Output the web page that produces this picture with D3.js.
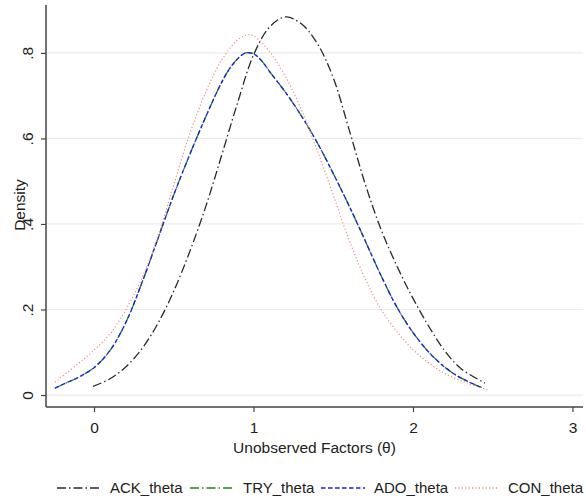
<!DOCTYPE html>
<html><head><meta charset="utf-8">
<script src="https://cdn.jsdelivr.net/npm/d3@7"></script>
<style>body{margin:0;background:#fff}svg{display:block}text{font-family:"Liberation Sans",Arial,sans-serif;fill:#222}</style>
</head><body><div id="chart"></div>
<script>
const xTicks = [0, 1, 2, 3];
const yTicks = [0, 0.2, 0.4, 0.6, 0.8];
const yTickLabels = ["0", ".2", ".4", ".6", ".8"];
const seriesNames = ["ACK_theta", "TRY_theta", "ADO_theta", "CON_theta"];

const ackTheta = [-0.006,0.1,0.2,0.3,0.4,0.5,0.6,0.7,0.8,0.9,1.0,1.1,1.2,1.3,1.4,1.5,1.6,1.7,1.8,1.9,2.0,2.1,2.2,2.3,2.451];
const ackDens  = [0.020,0.038,0.066,0.108,0.167,0.243,0.335,0.440,0.560,0.683,0.795,0.860,0.884,0.868,0.822,0.742,0.620,0.494,0.387,0.301,0.226,0.160,0.103,0.062,0.028];

const tryTheta = [-0.245,-0.2,-0.1,0.0,0.1,0.2,0.3,0.4,0.5,0.6,0.7,0.8,0.85,0.9,0.95,1.0,1.05,1.1,1.2,1.3,1.4,1.5,1.6,1.7,1.8,1.9,2.0,2.1,2.2,2.3,2.439];
const tryDens  = [0.016,0.024,0.041,0.064,0.104,0.170,0.262,0.365,0.468,0.562,0.650,0.731,0.763,0.786,0.800,0.798,0.782,0.757,0.708,0.653,0.590,0.518,0.442,0.361,0.279,0.205,0.146,0.100,0.065,0.040,0.016];
const adoTheta = tryTheta.slice();
const adoDens  = tryDens.slice();

const conTheta = [-0.245,-0.1,0.0,0.1,0.2,0.3,0.4,0.5,0.6,0.7,0.8,0.9,0.96,1.0,1.1,1.2,1.3,1.4,1.5,1.6,1.7,1.8,1.9,2.0,2.1,2.2,2.34,2.47];
const conDens  = [0.030,0.073,0.105,0.143,0.200,0.273,0.370,0.492,0.610,0.708,0.783,0.830,0.842,0.840,0.803,0.745,0.668,0.572,0.468,0.362,0.272,0.200,0.148,0.106,0.075,0.050,0.028,0.012];

const W = 586, H = 500;
const svg = d3.select("#chart").append("svg").attr("width", W).attr("height", H);

const x = d3.scaleLinear().domain([-0.301, 3.066]).range([46, 583]);
const y = d3.scaleLinear().domain([-0.028, 0.912]).range([407, 5]);

// gridlines
svg.append("g").selectAll("line").data(yTicks).join("line")
  .attr("x1", x.range()[0]).attr("x2", x.range()[1])
  .attr("y1", d => y(d)).attr("y2", d => y(d))
  .attr("stroke", "#ebebeb").attr("stroke-width", 1.2);

const series = [
  {name: seriesNames[0], th: ackTheta, de: ackDens, color: "#2a2a2a", dash: "9,3,1.5,3", w: 1.3},
  {name: seriesNames[1], th: tryTheta, de: tryDens, color: "#1a8a1a", dash: "9,3,1.5,3", w: 1.3},
  {name: seriesNames[2], th: adoTheta, de: adoDens, color: "#1f1fe0", dash: "4.5,2.5", w: 1.3},
  {name: seriesNames[3], th: conTheta, de: conDens, color: "#f08a80", dash: "1.2,2.2", w: 1.2}
];

const line = d3.line().x(d => x(d[0])).y(d => y(d[1])).curve(d3.curveCatmullRom.alpha(0.5));
series.forEach(s => {
  const pts = s.th.map((t, i) => [t, s.de[i]]);
  svg.append("path").datum(pts).attr("d", line)
    .attr("fill", "none").attr("stroke", s.color).attr("stroke-width", s.w)
    .attr("stroke-dasharray", s.dash);
});

// axes
const axisColor = "#444";
const yAxis = svg.append("g").attr("transform", `translate(${x.range()[0]},0)`)
  .call(d3.axisLeft(y).tickValues(yTicks).tickSize(5).tickFormat((d, i) => yTickLabels[i]));
yAxis.select(".domain").attr("d", `M0,${y.range()[1]}V${y.range()[0]}`).attr("stroke", axisColor).attr("stroke-width", 1.5);
yAxis.selectAll(".tick line").attr("stroke", axisColor).attr("stroke-width", 1.2);
yAxis.selectAll(".tick text")
  .attr("x", 0).attr("text-anchor", "middle")
  .attr("transform", "translate(-18,0) rotate(-90)")
  .attr("dy", "0.35em")
  .style("font-size", "15.5px").style("font-family", "Liberation Sans, Arial, sans-serif").attr("fill", "#222");

const xAxis = svg.append("g").attr("transform", `translate(0,${y.range()[0]})`)
  .call(d3.axisBottom(x).tickValues(xTicks).tickSize(5).tickFormat(d3.format("d")));
xAxis.select(".domain").attr("d", `M${x.range()[0]},0H${x.range()[1]}`).attr("stroke", axisColor).attr("stroke-width", 1.5);
xAxis.selectAll(".tick line").attr("stroke", axisColor).attr("stroke-width", 1.2);
xAxis.selectAll(".tick text").attr("y", 15).attr("dy", "0.71em")
  .style("font-size", "15.5px").style("font-family", "Liberation Sans, Arial, sans-serif").attr("fill", "#222");

svg.append("text").attr("x", (x.range()[0] + x.range()[1]) / 2).attr("y", 453)
  .attr("text-anchor", "middle").style("font-size", "15.5px").text("Unobserved Factors (θ)");
svg.append("text").attr("transform", "translate(25,205) rotate(-90)")
  .attr("text-anchor", "middle").style("font-size", "15.5px").text("Density");

// legend
const legX = [57, 190, 321, 455];
const leg = svg.append("g");
series.forEach((s, i) => {
  leg.append("line").attr("x1", legX[i]).attr("x2", legX[i] + 44).attr("y1", 488).attr("y2", 488)
    .attr("stroke", s.color).attr("stroke-width", s.w + 0.2).attr("stroke-dasharray", s.dash);
  leg.append("text").attr("x", legX[i] + 53).attr("y", 493).style("font-size", "15px").text(s.name);
});
</script></body></html>
